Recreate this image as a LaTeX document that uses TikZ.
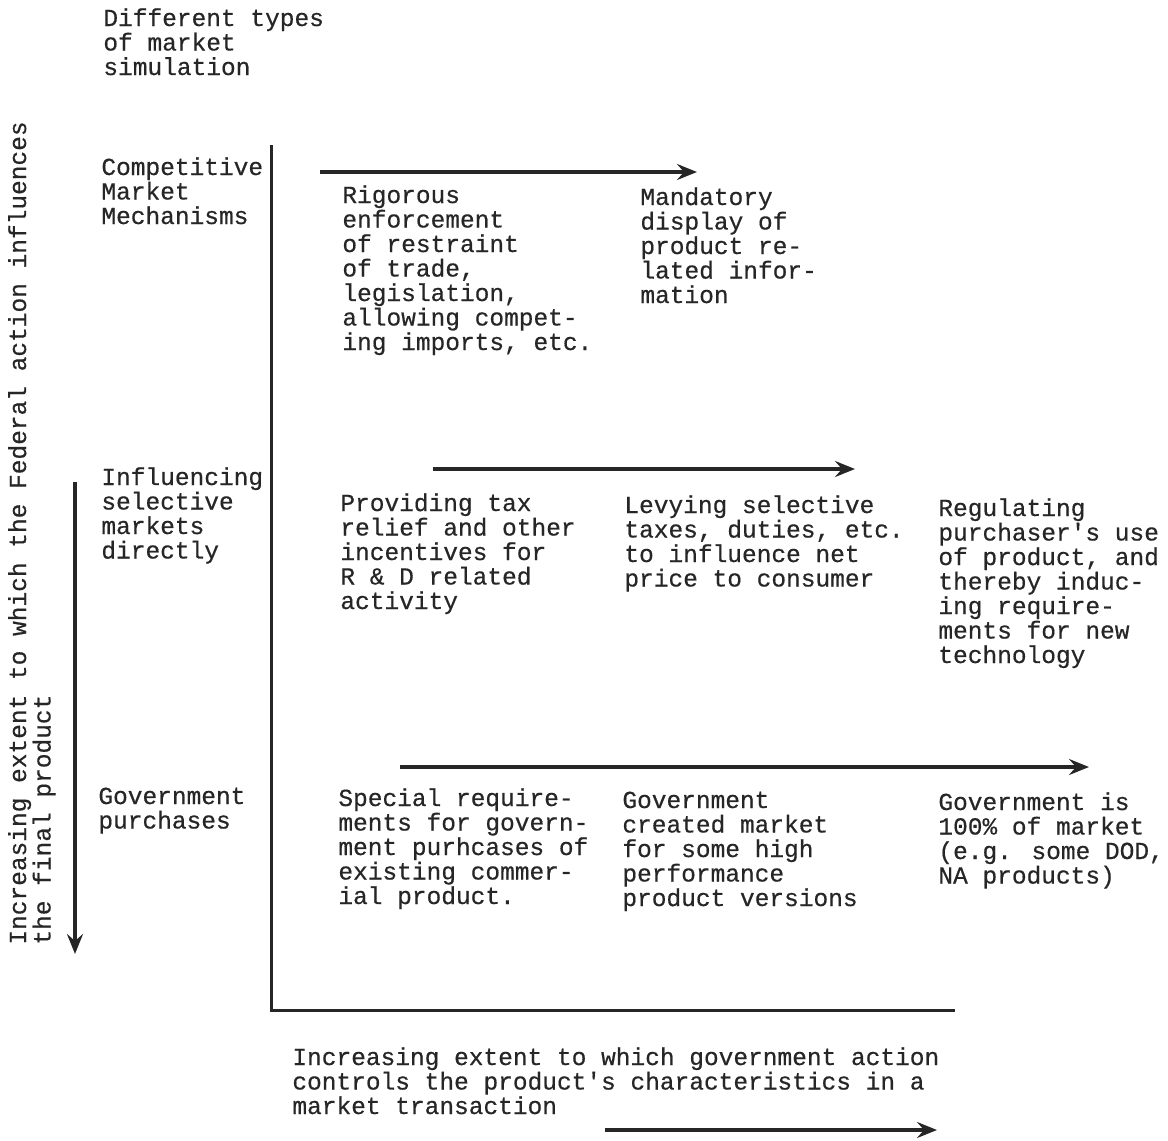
\documentclass[tikz,border=0pt]{standalone}
\usepackage{fontspec}
\newfontfamily\typewriter[FakeBold=0.5]{Liberation Mono}
\usepackage{xcolor,tikz}
\usetikzlibrary{calc,positioning,arrows.meta}
\tikzset{>={Stealth[length=10pt,width=8pt,inset=3.5pt]}}
\definecolor{ink}{gray}{0.15}
\tikzset{
  lbl/.style={anchor=base west,inner sep=0pt,align=left,text=ink,font=\typewriter\fontsize{12.25}{12.25}\selectfont},
  axis/.style={line width=1.5pt,draw=ink},
  arr/.style={->,line width=1.6pt,draw=ink,fill=ink}
}

\begin{document}
\begin{tikzpicture}[x=0.5pt,y=-0.5pt]
\useasboundingbox (0,0) rectangle (1168,1141);
% row headings (base is the last line)
\node[lbl] (types) at (103,75) {Different types\\of market\\simulation};
\node[lbl] (compet) at (101,224) {Competitive\\Market\\Mechanisms};
\node[lbl] (select) at (101,558.5) {Influencing\\selective\\markets\\directly};
\node[lbl] (govpur) at (98,828.5) {Government\\purchases};
% entries
\node[lbl] (rigor) at (342,350) {Rigorous\\enforcement\\of restraint\\of trade,\\legislation,\\allowing compet-\\ing imports, etc.};
\node[lbl] (mandat) at (640,303) {Mandatory\\display of\\product re-\\lated infor-\\mation};
\node[lbl] (taxrel) at (340,609) {Providing tax\\relief and other\\incentives for\\R \& D related\\activity};
\node[lbl] (levy) at (624,586.5) {Levying selective\\taxes, duties, etc.\\to influence net\\price to consumer};
\node[lbl] (regul) at (938,663) {Regulating\\purchaser's use\\of product, and\\thereby induc-\\ing require-\\ments for new\\technology};
\node[lbl] (special) at (338,904) {Special require-\\ments for govern-\\ment purhcases of\\existing commer-\\ial product.};
\node[lbl] (created) at (622,906) {Government\\created market\\for some high\\performance\\product versions};
\node[lbl] (hundred) at (938,883.5) {Government is\\100\% of market\\(e.g. some DOD,\\NA products)};
% axis labels
\node[lbl,rotate=90] (vlabel) at (50.5,945) {Increasing extent to which the Federal action influences\\the final product};
\node[lbl] (hlabel) at (292,1114) {Increasing extent to which government action\\controls the product's characteristics in a\\market transaction};
% axes
\coordinate (top) at (271,145);
\coordinate (corner) at (271,1010);
\coordinate (right) at (955,1010);
\draw[axis] (top) -- (corner) -- (right);
% arrows
\coordinate (a1) at (320,172); \coordinate (b1) at (697,172);
\coordinate (a2) at (433,469); \coordinate (b2) at (855,469);
\coordinate (a3) at (400,767); \coordinate (b3) at (1089,767);
\coordinate (a4) at (75,482);  \coordinate (b4) at (75,954);
\coordinate (a5) at (605,1130); \coordinate (b5) at (937,1130);
\foreach \i in {1,...,5}{
\draw[arr] (a\i) -- (b\i);
}
\end{tikzpicture}
\end{document}
